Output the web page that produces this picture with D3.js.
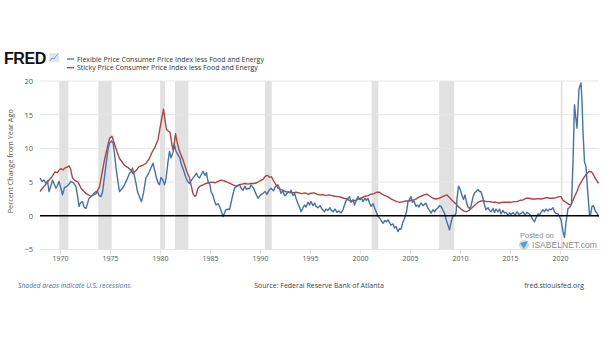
<!DOCTYPE html>
<html>
<head>
<meta charset="utf-8">
<script src="https://cdn.jsdelivr.net/npm/d3@7"></script>
<style>
  html, body { margin: 0; padding: 0; background: #fff; }
  svg { display: block; font-family: "Open Sans", "Noto Sans", sans-serif; }
</style>
</head>
<body>
<svg id="chart" width="605" height="341"></svg>
<script>
// Flexible Price CPI less Food and Energy, percent change from year ago
const flexDates = [
  1968.0,1968.2,1968.4,1968.6,1968.75,1968.9,1969.1,1969.25,1969.45,1969.6,1969.75,1969.9,
  1970.1,1970.25,1970.45,1970.6,1970.8,1971.0,1971.1,1971.35,1971.6,1971.75,1971.9,
  1972.05,1972.25,1972.4,1972.6,1972.75,1972.9,1973.1,1973.4,1973.6,1973.75,1973.9,
  1974.1,1974.25,1974.45,1974.6,1974.8,1974.95,1975.15,1975.3,1975.45,1975.6,1975.8,1975.95,
  1976.2,1976.45,1976.7,1976.95,1977.1,1977.25,1977.4,1977.6,1977.75,1978.0,1978.15,1978.35,
  1978.6,1978.8,1979.0,1979.3,1979.5,1979.65,1979.8,1979.95,1980.1,1980.25,1980.45,1980.6,
  1980.8,1980.95,1981.1,1981.3,1981.45,1981.6,1981.8,1982.0,1982.1,1982.35,1982.6,1982.8,
  1982.95,1983.15,1983.3,1983.5,1983.65,1983.8,1983.95,1984.15,1984.3,1984.5,1984.65,1984.8,
  1985.0,1985.1,1985.3,1985.45,1985.6,1985.8,1985.95,1986.1,1986.3,1986.45,1986.6,1986.8,
  1986.95,1987.2,1987.45,1987.7,1987.95,1988.15,1988.3,1988.5,1988.65,1988.8,1988.95,
  1989.1,1989.35,1989.55,1989.8,1990.0,1990.3,1990.5,1990.7,1990.9,1991.1,1991.35,1991.55,
  1991.8,1991.95,1992.1,1992.3,1992.45,1992.6,1992.8,1993.0,1993.1,1993.3,1993.45,1993.6,
  1993.8,1994.0,1994.1,1994.3,1994.45,1994.6,1994.8,1994.95,1995.1,1995.3,1995.45,1995.6,
  1995.8,1996.0,1996.2,1996.45,1996.6,1996.8,1997.0,1997.1,1997.3,1997.5,1997.7,1997.9,
  1998.1,1998.3,1998.45,1998.6,1998.8,1998.95,1999.1,1999.3,1999.45,1999.6,1999.8,
  2000.0,2000.15,2000.3,2000.5,2000.65,2000.8,2000.95,2001.1,2001.3,2001.5,2001.65,2001.8,
  2002.0,2002.15,2002.3,2002.5,2002.65,2002.8,2002.95,2003.1,2003.3,2003.45,2003.6,2003.8,
  2003.95,2004.1,2004.3,2004.45,2004.65,2004.8,2004.95,2005.1,2005.25,2005.4,2005.6,2005.75,
  2005.9,2006.1,2006.3,2006.45,2006.6,2006.8,2006.95,2007.1,2007.3,2007.45,2007.6,2007.8,
  2007.95,2008.1,2008.3,2008.45,2008.6,2008.8,2008.95,2009.1,2009.3,2009.45,2009.6,2009.7,
  2009.85,2010.0,2010.2,2010.35,2010.5,2010.65,2010.8,2010.95,2011.1,2011.3,2011.45,2011.6,
  2011.8,2011.95,2012.1,2012.3,2012.45,2012.6,2012.8,2012.95,2013.1,2013.3,2013.45,2013.6,
  2013.8,2013.95,2014.1,2014.3,2014.45,2014.6,2014.8,2014.95,2015.1,2015.3,2015.5,2015.7,
  2015.9,2016.1,2016.3,2016.5,2016.7,2016.9,2017.1,2017.25,2017.45,2017.6,2017.8,2017.95,
  2018.1,2018.3,2018.45,2018.6,2018.8,2018.95,2019.1,2019.3,2019.45,2019.6,2019.8,2019.95,
  2020.1,2020.3,2020.45,2020.6,2020.8,2020.95,2021.15,2021.3,2021.45,2021.55,2021.7,2021.9,
  2022.1,2022.2,2022.3,2022.45,2022.6,2022.75,2022.95,2023.05,2023.2,2023.35,2023.55,2023.7,
  2023.85
];
const flexValues = [
  5.6,5.1,5.3,4.8,5.2,3.6,4.5,5.3,4.6,4.1,4.5,5.1,
  4.0,3.1,4.2,4.3,4.5,4.9,5.1,4.9,4.3,3.0,1.4,
  1.9,2.1,1.3,1.1,1.8,2.6,2.8,3.35,3.6,3.6,3.0,
  2.85,3.5,5.8,7.6,9.8,10.8,11.1,10.8,9.2,7.1,5.0,3.6,
  4.0,4.6,5.4,6.3,6.5,7.1,6.2,4.8,3.6,2.6,2.1,3.4,
  5.7,6.1,6.8,7.8,6.6,5.6,4.9,4.6,5.7,5.4,4.6,5.5,
  8.0,9.6,8.6,9.4,10.5,9.6,9.05,8.5,7.8,6.8,5.6,5.0,
  4.8,5.3,5.6,6.0,6.3,5.8,5.6,6.2,6.6,6.0,6.4,5.1,
  4.6,3.6,3.0,2.2,1.6,1.8,1.4,0.8,-0.1,0.4,0.9,1.0,
  0.9,2.6,4.1,4.4,4.6,4.0,3.8,4.4,3.9,4.1,4.0,
  4.6,4.1,3.4,2.6,3.0,3.35,3.6,3.2,3.8,4.1,3.7,4.4,
  4.6,4.0,3.35,3.7,3.0,3.1,3.6,3.4,3.8,3.0,3.3,2.6,
  1.8,1.1,0.6,1.2,1.6,1.3,2.0,1.6,2.1,1.5,1.9,1.4,
  1.2,1.5,1.0,0.6,1.0,0.8,1.2,0.9,0.6,1.0,0.5,0.7,
  0.4,0.9,1.6,2.2,2.6,2.85,2.0,2.4,1.6,2.2,2.85,
  2.4,2.6,2.1,2.6,2.3,2.6,1.9,1.4,1.8,1.0,0.5,-0.1,
  -0.4,-0.8,-1.1,-0.7,-0.9,-0.6,-1.0,-1.4,-1.2,-1.8,-1.6,-2.35,
  -1.9,-2.0,-0.9,-0.4,0.6,2.1,2.4,2.85,2.0,2.2,1.4,1.6,
  1.3,1.9,1.5,1.7,1.85,1.1,0.8,0.4,0.9,0.6,0.9,1.2,
  1.5,1.4,0.8,0.4,-0.5,-1.4,-2.1,-1.0,0.1,0.0,0.4,2.5,
  4.4,4.0,3.0,2.4,3.1,2.0,1.3,1.1,1.4,2.8,3.4,3.6,
  3.9,3.6,3.6,2.6,1.6,0.9,1.2,0.8,0.6,1.1,0.5,1.0,
  0.6,1.0,0.3,0.8,0.4,0.5,0.1,0.4,0.2,0.5,0.1,0.6,
  0.2,0.35,0.6,0.1,0.5,0.3,0.0,-0.5,-0.9,-0.3,0.3,0.1,
  0.5,0.9,0.6,1.0,0.7,1.0,0.9,1.2,0.6,0.35,0.3,-0.1,
  -0.6,-2.35,-3.2,-1.0,1.1,1.2,1.8,8.0,16.5,15.0,13.0,18.8,
  19.7,17.0,12.5,8.0,7.3,4.0,0.1,0.1,1.4,1.5,0.6,0.4,
  -0.1
];

// Sticky Price CPI less Food and Energy, percent change from year ago
const stickyDates = [
  1968.0,1968.3,1968.6,1968.9,1969.2,1969.5,1969.75,1969.9,1970.1,1970.3,1970.5,1970.7,1970.9,
  1971.05,1971.25,1971.45,1971.8,1972.1,1972.6,1973.1,1973.6,1973.95,1974.45,1974.95,1975.2,
  1975.7,1975.95,1976.45,1976.95,1977.3,1977.6,1977.9,1978.3,1978.6,1978.9,1979.2,1979.5,
  1979.8,1980.0,1980.2,1980.35,1980.5,1980.65,1980.8,1981.0,1981.2,1981.3,1981.45,1981.55,
  1981.7,1981.9,1982.1,1982.3,1982.45,1982.7,1982.95,1983.15,1983.3,1983.45,1983.6,1983.8,
  1984.0,1984.3,1984.6,1984.9,1985.2,1985.5,1985.8,1986.1,1986.4,1986.7,1987.0,1987.3,
  1987.6,1987.9,1988.2,1988.5,1988.8,1989.1,1989.4,1989.7,1990.0,1990.3,1990.55,1990.75,
  1990.95,1991.15,1991.35,1991.6,1991.8,1992.1,1992.4,1992.7,1993.0,1993.3,1993.6,1993.9,
  1994.2,1994.5,1994.8,1995.1,1995.4,1995.7,1996.0,1996.3,1996.6,1996.9,1997.2,1997.5,
  1997.8,1998.1,1998.4,1998.7,1999.0,1999.3,1999.6,1999.9,2000.2,2000.5,2000.8,2001.1,
  2001.4,2001.7,2001.95,2002.2,2002.5,2002.8,2003.1,2003.4,2003.7,2004.0,2004.3,2004.6,
  2004.9,2005.2,2005.5,2005.8,2006.1,2006.4,2006.7,2007.0,2007.3,2007.6,2007.9,2008.2,
  2008.5,2008.7,2008.9,2009.2,2009.5,2009.8,2010.1,2010.4,2010.65,2010.9,2011.2,2011.5,
  2011.8,2012.1,2012.4,2012.7,2013.0,2013.3,2013.6,2013.9,2014.2,2014.5,2014.8,2015.1,
  2015.4,2015.7,2016.0,2016.3,2016.6,2016.9,2017.2,2017.5,2017.8,2018.1,2018.4,2018.7,
  2019.0,2019.3,2019.6,2019.9,2020.1,2020.3,2020.6,2020.9,2021.1,2021.3,2021.5,2021.7,
  2021.95,2022.2,2022.45,2022.7,2022.95,2023.15,2023.35,2023.55,2023.85
];
const stickyValues = [
  3.6,4.2,4.7,5.3,5.8,6.5,6.4,6.8,7.0,6.8,7.1,7.2,7.4,
  7.0,5.6,5.3,5.0,4.1,3.3,2.9,3.3,4.3,8.3,11.5,11.8,
  9.5,8.5,7.5,7.0,6.3,6.7,7.3,7.5,7.8,8.4,9.4,10.2,
  11.3,13.0,14.6,15.8,14.2,12.8,12.6,12.4,10.5,9.8,11.0,12.2,
  11.0,9.8,9.0,8.3,7.6,6.5,5.6,4.3,3.3,2.9,3.0,4.1,
  4.4,4.6,4.8,4.9,5.0,4.9,5.1,5.3,5.2,5.0,4.8,4.6,
  4.4,4.6,4.7,4.8,4.7,4.8,4.8,4.9,5.2,5.4,5.9,6.0,
  5.7,5.8,5.2,4.6,4.1,3.9,3.7,3.5,3.5,3.4,3.5,3.4,
  3.3,3.4,3.2,3.35,3.4,3.2,3.1,3.15,3.0,3.1,3.0,2.9,
  2.85,2.75,2.6,2.5,2.2,2.2,2.3,2.5,2.7,2.9,3.0,3.2,
  3.3,3.5,3.5,3.2,3.0,2.8,2.5,2.3,2.1,2.0,2.1,2.2,
  2.2,2.3,2.4,2.7,2.9,3.1,3.2,2.9,2.6,2.5,2.6,2.8,
  3.0,3.1,2.8,2.3,1.9,1.4,1.0,0.7,0.6,0.8,1.2,1.6,
  2.0,2.2,2.2,2.1,2.1,2.0,2.0,1.9,2.0,2.0,2.0,2.0,
  2.1,2.1,2.3,2.35,2.6,2.6,2.5,2.5,2.55,2.5,2.6,2.7,
  2.6,2.6,2.7,2.85,2.85,2.3,2.0,1.7,1.6,2.3,3.0,3.6,
  4.6,5.2,5.8,6.3,6.6,6.5,6.1,5.5,4.8
];

// NBER recessions [start, end] in decimal years
const recessionStarts = [1969.92, 1973.83, 1980.0, 1981.5, 1990.5, 2001.17, 2007.92, 2020.08];
const recessionEnds   = [1970.83, 1975.17, 1980.5, 1982.83, 1991.17, 2001.83, 2009.42, 2020.25];

const xTicks = [1970,1975,1980,1985,1990,1995,2000,2005,2010,2015,2020];
const yTicks = [-5,0,5,10,15,20];

const seriesNames = [
  "Flexible Price Consumer Price Index less Food and Energy",
  "Sticky Price Consumer Price Index less Food and Energy"
];
const seriesColors = ["#4572a7", "#aa4643"];

const svg = d3.select("#chart");

const x = d3.scaleLinear().domain([1968.0, 2023.9]).range([40, 599]);
const y = d3.scaleLinear().domain([-5, 20]).range([249.5, 81]);

// recession shading
svg.append("g").selectAll("rect")
  .data(recessionStarts.map((s, i) => [s, recessionEnds[i]]))
  .join("rect")
  .attr("x", d => x(d[0]))
  .attr("width", d => x(d[1]) - x(d[0]))
  .attr("y", y(20))
  .attr("height", y(-5) - y(20))
  .attr("fill", "#e1e1e1");

// horizontal grid
svg.append("g").selectAll("line")
  .data(yTicks.filter(v => v !== 0))
  .join("line")
  .attr("x1", x.range()[0]).attr("x2", x.range()[1])
  .attr("y1", d => y(d)).attr("y2", d => y(d))
  .attr("stroke", "#e6e6e6").attr("stroke-width", 1);

// y axis labels
const yAxis = svg.append("g")
  .attr("transform", `translate(${x.range()[0]},0)`)
  .call(d3.axisLeft(y).tickValues(yTicks).tickSize(0).tickPadding(7));
yAxis.select(".domain").remove();
yAxis.selectAll("text").attr("font-size", 7.5).attr("fill", "#555")
  .attr("font-family", "'Open Sans', sans-serif");

// x axis
const xAxis = svg.append("g")
  .attr("transform", `translate(0,${y(-5)})`)
  .call(d3.axisBottom(x).tickValues(xTicks).tickFormat(d3.format("d")).tickSize(5).tickPadding(2));
xAxis.select(".domain").remove();
xAxis.selectAll("line").attr("stroke", "#e3e3e3");
xAxis.selectAll("text").attr("font-size", 7).attr("fill", "#555")
  .attr("font-family", "'Open Sans', sans-serif");

// y axis title
svg.append("text")
  .attr("transform", `translate(13,${(y(20) + y(-5)) / 2 - 4}) rotate(-90)`)
  .attr("text-anchor", "middle")
  .attr("font-size", 7.3).attr("fill", "#555")
  .text("Percent Change from Year Ago");

// lines
const line = d3.line().x(d => x(d[0])).y(d => y(d[1]));
const flexData = flexDates.map((d, i) => [d, flexValues[i]]);
const stickyData = stickyDates.map((d, i) => [d, stickyValues[i]]);

svg.append("path").datum(stickyData)
  .attr("d", line).attr("fill", "none")
  .attr("stroke", seriesColors[1]).attr("stroke-width", 1.4).attr("stroke-linejoin", "round");
svg.append("path").datum(flexData)
  .attr("d", line).attr("fill", "none")
  .attr("stroke", seriesColors[0]).attr("stroke-width", 1.4).attr("stroke-linejoin", "round");

// zero line
svg.append("line")
  .attr("x1", x.range()[0]).attr("x2", x.range()[1])
  .attr("y1", y(0)).attr("y2", y(0))
  .attr("stroke", "#000").attr("stroke-width", 1.6);

// header: FRED mark and legend
svg.append("text")
  .attr("x", 4).attr("y", 64)
  .attr("font-family", "'Liberation Sans', Arial, sans-serif")
  .attr("font-weight", "bold").attr("font-size", 16).attr("fill", "#111")
  .attr("letter-spacing", -0.4)
  .text("FRED");
const icon = svg.append("g").attr("transform", "translate(49,53)");
icon.append("rect").attr("width", 10).attr("height", 9).attr("fill", "#dfe6ef").attr("rx", 1);
icon.append("polyline").attr("points", "1,8 3,5 5,6 7,3 9,1")
  .attr("fill", "none").attr("stroke", "#7a9cc6").attr("stroke-width", 1);

const legend = svg.append("g");
seriesNames.forEach((name, i) => {
  const ly = 59 + i * 8.7;
  legend.append("line")
    .attr("x1", 67).attr("x2", 74).attr("y1", ly).attr("y2", ly)
    .attr("stroke", seriesColors[i]).attr("stroke-width", 1.3);
  legend.append("text")
    .attr("x", 77).attr("y", ly + 2.5)
    .attr("font-size", 7).attr("fill", "#333")
    .text(name);
});

// footer
svg.append("text").attr("x", 18).attr("y", 288)
  .attr("font-size", 6.8).attr("font-style", "italic").attr("fill", "#4a6fa5")
  .text("Shaded areas indicate U.S. recessions.");
svg.append("text").attr("x", 319).attr("y", 288).attr("text-anchor", "middle")
  .attr("font-size", 7).attr("fill", "#444")
  .text("Source: Federal Reserve Bank of Atlanta");
svg.append("text").attr("x", 584).attr("y", 288).attr("text-anchor", "end")
  .attr("font-size", 7).attr("fill", "#444")
  .text("fred.stlouisfed.org");

// posting credit
const credit = svg.append("g");
credit.append("text").attr("x", 520).attr("y", 237.5)
  .attr("font-family", "'Liberation Sans', Arial, sans-serif")
  .attr("font-size", 7.5).attr("fill", "#8a8a8a").text("Posted on");
credit.append("circle").attr("cx", 524).attr("cy", 245).attr("r", 5).attr("fill", "#d5dbe2");
credit.append("path").attr("d", "M520,243 L528,241 L524,249 Z").attr("fill", "#4aa3d8");
credit.append("text").attr("x", 532).attr("y", 248)
  .attr("font-family", "'Liberation Sans', Arial, sans-serif")
  .attr("font-size", 8.6).attr("fill", "#8a8a8a").text("ISABELNET.com");
</script>
</body>
</html>
